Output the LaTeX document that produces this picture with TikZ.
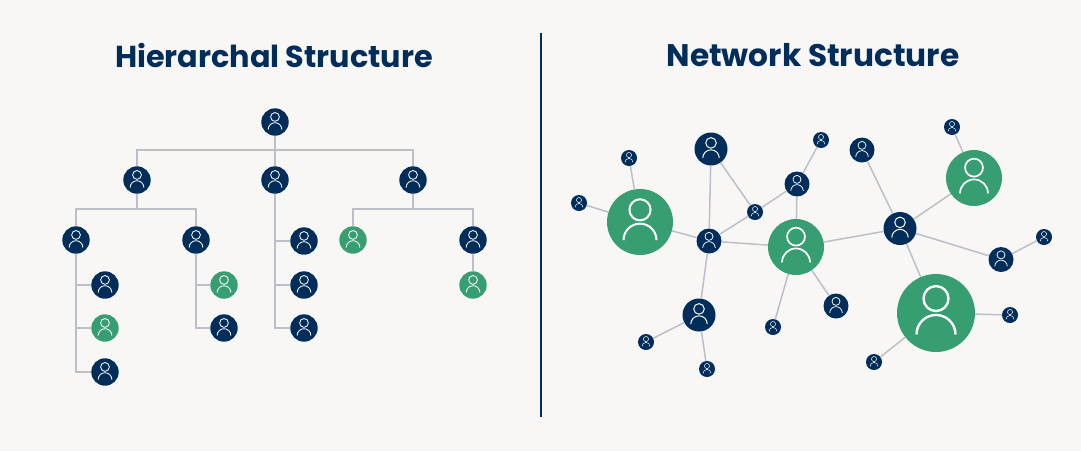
\documentclass[tikz,border=0pt]{standalone}
\usepackage{fontspec}
\setmainfont{Poppins}
\definecolor{paper}{HTML}{F9F7F6}
\definecolor{navy}{HTML}{002D5A}
\definecolor{leaf}{HTML}{379E72}
\definecolor{wire}{HTML}{BBC0C8}
\newcommand{\personicon}[1]{%
  \draw[white,line width=.06*#1 pt]
    ([yshift=.37*#1 pt]path picture bounding box.center) circle[radius=.32*#1 pt];
  \draw[white,line width=.06*#1 pt]
    ([xshift=-.5*#1 pt,yshift=-.55*#1 pt]path picture bounding box.center)
    arc[start angle=180,end angle=0,x radius=.5*#1 pt,y radius=.5*#1 pt];}
\tikzset{
  person/.style={circle,inner sep=0pt,minimum size=2*#1 pt,path picture={\personicon{#1}}},
  staff/.style={person=#1,fill=navy},
  lead/.style={person=#1,fill=leaf},
  link/.style={wire,line width=1.5pt},
  title/.style={navy,font=\bfseries\fontsize{#1}{34}\selectfont}
}
\begin{document}
\begin{tikzpicture}[x=1pt,y=-1pt]
    \fill[paper] (0,0) rectangle (1081,451);
    \node[title=30.3] (hiertitle) at (274,55) {Hierarchal Structure};
    \node[title=31.2] (nettitle) at (813,55) {Network Structure};
    \coordinate (divtop) at (541,32.5);
    \coordinate (divbot) at (541,417);
    \draw[navy,line width=1.5pt] (divtop) -- (divbot);

    % hierarchy
    \node[staff=13.7] (root) at (275,122) {};
    \node[staff=13.7] (h1) at (137,180) {};
    \node[staff=13.7] (h2) at (275,180) {};
    \node[staff=13.7] (h3) at (413,180) {};
    \node[staff=13.7] (h11) at (76,240) {};
    \node[staff=13.7] (h12) at (196,240) {};
    \node[lead=13.7] (h31) at (353,240) {};
    \node[staff=13.7] (h32) at (473,240) {};
    \node[staff=13.7] (h111) at (105,285) {};
    \node[lead=13.7] (h112) at (105,328) {};
    \node[staff=13.7] (h113) at (105,372) {};
    \node[lead=13.7] (h121) at (224,285) {};
    \node[staff=13.7] (h122) at (224,328) {};
    \node[staff=13.7] (h21) at (304,241) {};
    \node[staff=13.7] (h22) at (304,285) {};
    \node[staff=13.7] (h23) at (304,328) {};
    \node[lead=13.7] (h321) at (473,285) {};
    \coordinate (busroot) at (275,150);
    \coordinate (busone) at (137,209);
    \coordinate (busthree) at (413,209);
    \draw[link] (root) -- (h2);
    \draw[link] (busroot) -| (h1);
    \draw[link] (busroot) -| (h3);
    \draw[link] (h1) -- (busone);
    \draw[link] (busone) -| (h11);
    \draw[link] (busone) -| (h12);
    \draw[link] (h3) -- (busthree);
    \draw[link] (busthree) -| (h31);
    \draw[link] (busthree) -| (h32);
    \draw[link] (h11) |- (h111);
    \draw[link] (h11) |- (h112);
    \draw[link] (h11) |- (h113);
    \draw[link] (h12) |- (h121);
    \draw[link] (h12) |- (h122);
    \draw[link] (h2) |- (h21);
    \draw[link] (h2) |- (h22);
    \draw[link] (h2) |- (h23);
    \draw[link] (h32) -- (h321);

    % network
    \node[lead=33] (bigleft) at (640,222) {};
    \node[lead=28] (midcentre) at (796,247) {};
    \node[lead=28] (midright) at (974,178) {};
    \node[lead=39] (bigright) at (936,313) {};
    \node[staff=12.5] (hubleft) at (709,241) {};
    \node[staff=16.5] (top) at (711,149) {};
    \node[staff=8] (tinymid) at (755,212) {};
    \node[staff=12.5] (upper) at (797,184) {};
    \node[staff=8] (tinytop) at (821,140) {};
    \node[staff=12.5] (crown) at (862,150) {};
    \node[staff=16.5] (hubright) at (900,228.5) {};
    \node[staff=8] (tinycrown) at (952,127) {};
    \node[staff=12.5] (east) at (1001,259.5) {};
    \node[staff=8] (tinyeast) at (1044,237) {};
    \node[staff=8] (tinyse) at (1010,315) {};
    \node[staff=8] (tinysouth) at (874,362) {};
    \node[staff=12.5] (under) at (836,306) {};
    \node[staff=8] (tinyunder) at (773,327) {};
    \node[staff=16.5] (low) at (699,315) {};
    \node[staff=8] (tinylowl) at (646,342) {};
    \node[staff=8] (tinylowr) at (707,369) {};
    \node[staff=8] (tinynw) at (629,158) {};
    \node[staff=8] (tinywest) at (579,203) {};
    \draw[link] (bigleft) -- (tinynw);
    \draw[link] (bigleft) -- (tinywest);
    \draw[link] (bigleft) -- (hubleft);
    \draw[link] (hubleft) -- (top);
    \draw[link] (hubleft) -- (tinymid);
    \draw[link] (hubleft) -- (midcentre);
    \draw[link] (hubleft) -- (low);
    \draw[link] (tinymid) -- (top);
    \draw[link] (tinymid) -- (upper);
    \draw[link] (upper) -- (tinytop);
    \draw[link] (upper) -- (midcentre);
    \draw[link] (midcentre) -- (hubright);
    \draw[link] (midcentre) -- (tinyunder);
    \draw[link] (midcentre) -- (under);
    \draw[link] (hubright) -- (crown);
    \draw[link] (hubright) -- (midright);
    \draw[link] (midright) -- (tinycrown);
    \draw[link] (hubright) -- (east);
    \draw[link] (east) -- (tinyeast);
    \draw[link] (hubright) -- (bigright);
    \draw[link] (bigright) -- (tinyse);
    \draw[link] (bigright) -- (tinysouth);
    \draw[link] (low) -- (tinylowl);
    \draw[link] (low) -- (tinylowr);
\end{tikzpicture}
\end{document}
